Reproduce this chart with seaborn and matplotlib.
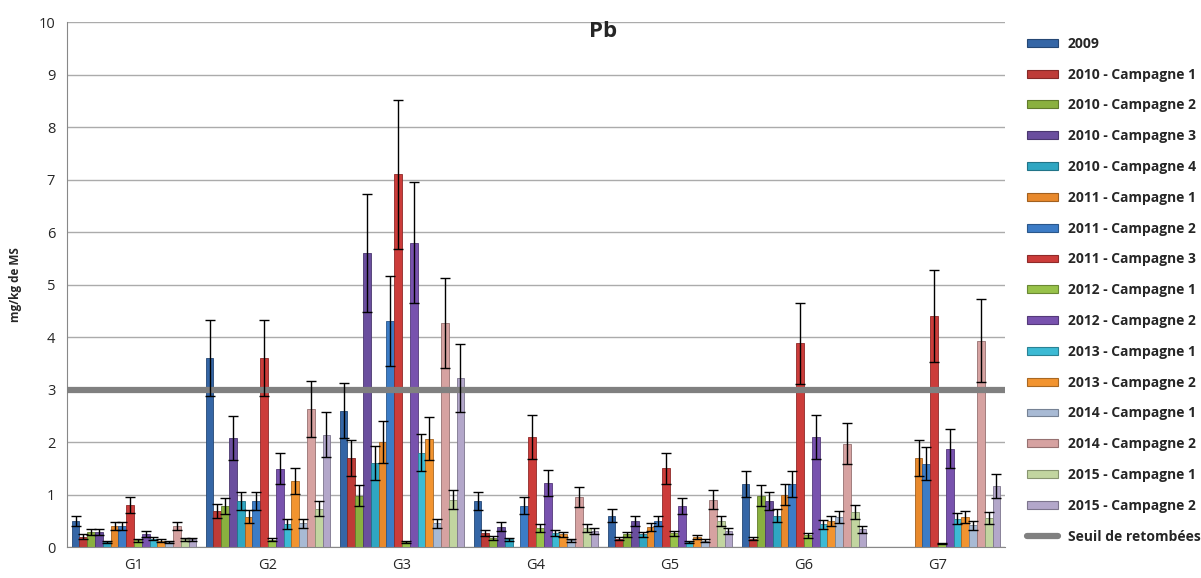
import numpy as np
import pandas as pd
import matplotlib
matplotlib.use("Agg")
import matplotlib.pyplot as plt
import seaborn as sns
from matplotlib.patches import Patch
from matplotlib.lines import Line2D
from matplotlib.colors import to_rgb

groups = ["G1", "G2", "G3", "G4", "G5", "G6", "G7"]
campaigns = [
    "2009",
    "2010 - Campagne 1", "2010 - Campagne 2", "2010 - Campagne 3", "2010 - Campagne 4",
    "2011 - Campagne 1", "2011 - Campagne 2", "2011 - Campagne 3",
    "2012 - Campagne 1", "2012 - Campagne 2",
    "2013 - Campagne 1", "2013 - Campagne 2",
    "2014 - Campagne 1", "2014 - Campagne 2",
    "2015 - Campagne 1", "2015 - Campagne 2",
]
nan = np.nan
g1 = [0.50, 0.20, 0.28, 0.28, 0.10, 0.40, 0.40, 0.80, 0.13, 0.25, 0.16, 0.12, 0.10, 0.40, 0.15, 0.15]
g2 = [3.60, 0.69, 0.78, 2.08, 0.88, 0.58, 0.88, 3.60, 0.14, 1.49, 0.44, 1.26, 0.45, 2.63, 0.73, 2.14]
g3 = [2.60, 1.70, 0.98, 5.60, 1.60, 2.00, 4.30, 7.10, 0.10, 5.80, 1.80, 2.06, 0.45, 4.27, 0.90, 3.22]
g4 = [0.88, 0.27, 0.17, 0.39, 0.15, nan, 0.79, 2.10, 0.36, 1.22, 0.27, 0.24, 0.13, 0.95, 0.36, 0.30]
g5 = [0.60, 0.16, 0.24, 0.50, 0.24, 0.38, 0.50, 1.50, 0.26, 0.78, 0.10, 0.19, 0.12, 0.90, 0.50, 0.30]
g6 = [1.20, 0.16, 0.98, 0.87, 0.60, 1.00, 1.20, 3.88, 0.22, 2.10, 0.43, 0.49, 0.57, 1.97, 0.67, 0.34]
g7 = [nan, nan, nan, nan, nan, 1.70, 1.59, 4.40, 0.06, 1.87, 0.54, 0.57, 0.41, 3.93, 0.55, 1.16]
rel_err = 0.20        # error bars = +/- 20 % of the value
seuil = 3.0           # seuil de retombees

colors = [
    "#3566A6", "#BE3B37", "#8AB03F", "#6A4E9E", "#2FA6C2", "#E8892C",
    "#3C7CC6", "#CC3C3A", "#98C24A", "#7852AE", "#3CBAD4", "#F29430",
    "#A8BAD4", "#D6A2A1", "#C2D5A0", "#B3A7CA",
]

df = pd.DataFrame({g: v for g, v in zip(groups, [g1, g2, g3, g4, g5, g6, g7])}, index=campaigns)
long = df.reset_index().melt(id_vars="index", var_name="groupe", value_name="val")
long = long.rename(columns={"index": "campagne"}).dropna()

sns.set_style("white")
plt.rcParams["font.family"] = ["Open Sans", "DejaVu Sans"]

fig = plt.figure(figsize=(12.01, 5.78), dpi=100)
ax = fig.add_axes([0.0558, 0.0536, 0.781, 0.9083])

sns.barplot(data=long, x="groupe", y="val", hue="campagne", order=groups,
            hue_order=campaigns, palette=colors, width=0.93, errorbar=None,
            legend=False, ax=ax, saturation=1)

for cont, col in zip(ax.containers, colors):
    dark = tuple(c * 0.7 for c in to_rgb(col))
    xs, ys = [], []
    for p in cont:
        p.set_edgecolor(dark)
        p.set_linewidth(0.6)
        h = p.get_height()
        if np.isfinite(h):
            xs.append(p.get_x() + p.get_width() / 2)
            ys.append(h)
    ys = np.array(ys)
    ax.errorbar(xs, ys, yerr=ys * rel_err, fmt="none", ecolor="black",
                elinewidth=1, capsize=3.6, capthick=1, zorder=5)

ax.axhline(seuil, color="#808080", lw=4.5, zorder=4)

ax.set_xlim(-0.5, len(groups) - 0.5)
ax.set_ylim(0, 10)
ax.set_yticks(range(0, 11))
ax.yaxis.grid(True, color="#ABABAB", lw=1)
ax.set_axisbelow(True)
ax.set_xticks(np.arange(-0.5, len(groups), 1.0), minor=True)
ax.tick_params(axis="x", which="major", length=0, labelsize=10.5, pad=8)
ax.tick_params(axis="x", which="minor", length=5, color="#888888")
ax.tick_params(axis="y", length=5, color="#888888", labelsize=10.5)
for s in ["top", "right"]:
    ax.spines[s].set_visible(False)
for s in ["left", "bottom"]:
    ax.spines[s].set_color("#888888")
ax.set_xlabel("")
ax.set_ylabel("mg/kg de MS", fontsize=8.5, fontweight="bold", labelpad=12)

fig.text(0.502, 0.945, "Pb", ha="center", va="center", fontsize=16, fontweight="bold")

handles = [Patch(facecolor=c, edgecolor=tuple(x * 0.7 for x in to_rgb(c)), lw=0.8) for c in colors]
handles.append(Line2D([0], [0], color="#808080", lw=4.5))
labels = campaigns + ["Seuil de retombées"]
leg = fig.legend(handles, labels, loc="upper left", bbox_to_anchor=(0.8505, 0.946),
                 frameon=False, prop={"weight": "bold", "size": 10},
                 handlelength=2.23, handleheight=0.5, labelspacing=1.21,
                 handletextpad=0.72, borderaxespad=0)

fig.savefig("out.png", dpi=100)
